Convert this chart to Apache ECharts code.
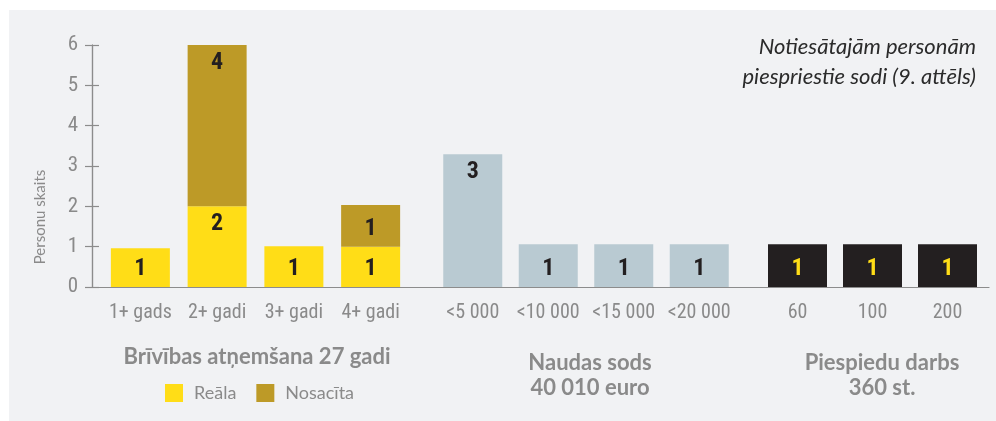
<!DOCTYPE html>
<html>
<head>
<meta charset="utf-8">
<script src="https://cdn.jsdelivr.net/npm/echarts@6/dist/echarts.min.js"></script>
<style>
  html, body { margin: 0; padding: 0; background: #fff; }
  #chart {
    width: 996px; height: 421px;
    background: linear-gradient(#f1f2f4, #f1f2f4) no-repeat 9px 10px / 987px 411px, #fff;
  }
</style>
</head>
<body>
<div id="chart"></div>
<script>
  // Brīvības atņemšana
  var prisonCats = ["1+ gads", "2+ gadi", "3+ gadi", "4+ gadi"];
  var realHeights = [0.96, 2, 1.01, 1];
  var realCounts = [1, 2, 1, 1];
  var condHeights = [0, 4, 0, 1.03];
  var condCounts = [0, 4, 0, 1];
  // Naudas sods
  var fineCats = ["<5 000", "<10 000", "<15 000", "<20 000"];
  var fineHeights = [3.29, 1.06, 1.06, 1.06];
  var fineCounts = [3, 1, 1, 1];
  // Piespiedu darbs
  var workCats = ["60", "100", "200"];
  var workHeights = [1.06, 1.06, 1.06];
  var workCounts = [1, 1, 1];

  var narrow = "'Roboto Condensed', 'Liberation Sans Narrow', Roboto, sans-serif";
  var geo = "Lato, 'Noto Sans', sans-serif";
  var gray = "#8a8a8a";
  var axisGray = "#8c8c8c";

  function items(heights, counts, textColor) {
    return heights.map(function (h, i) {
      if (!h) return "-";
      return {
        value: h,
        label: {
          formatter: String(counts[i]),
          position: counts[i] > 1 ? "insideTop" : "insideBottom",
          distance: 6,
          color: textColor,
        },
      };
    });
  }

  var barLabel = {
    show: true,
    fontFamily: narrow,
    fontWeight: "bold",
    fontSize: 24,
  };

  function catAxis(idx, data) {
    return {
      type: "category",
      gridIndex: idx,
      data: data,
      axisLine: { show: false },
      axisTick: { show: false },
      axisLabel: { interval: 0, color: gray, fontFamily: narrow, fontSize: 20, margin: 16 },
    };
  }
  function hiddenY(idx) {
    return { type: "value", gridIndex: idx, min: 0, max: 6, show: false };
  }
  function groupText(x, y, text) {
    return {
      type: "text",
      style: {
        x: x, y: y, text: text,
        fill: gray, font: "bold 22px " + geo,
        textAlign: "center", textVerticalAlign: "middle",
      },
    };
  }

  var myChart = echarts.init(document.getElementById("chart"));
  myChart.setOption({
    animation: false,
    grid: [
      { left: 92, right: 7, top: 45, bottom: 134 },
      { left: 102, width: 307, top: 45, bottom: 134 },
      { left: 435, width: 302, top: 45, bottom: 134 },
      { left: 760, width: 225, top: 45, bottom: 134 },
    ],
    xAxis: [
      {
        type: "value",
        gridIndex: 0,
        min: 0,
        max: 1,
        axisLine: { show: true, lineStyle: { color: axisGray, width: 1.2 } },
        axisTick: { show: false },
        axisLabel: { show: false },
        splitLine: { show: false },
      },
      catAxis(1, prisonCats),
      catAxis(2, fineCats),
      catAxis(3, workCats),
    ],
    yAxis: [
      {
        type: "value",
        gridIndex: 0,
        min: 0,
        max: 6,
        interval: 1,
        axisLine: { show: true, lineStyle: { color: axisGray, width: 1.2 } },
        axisTick: { show: true, length: 7, lineStyle: { color: axisGray, width: 1.2 } },
        axisLabel: { color: gray, fontFamily: narrow, fontSize: 21, margin: 14 },
        splitLine: { show: false },
      },
      {
        type: "value",
        gridIndex: 0,
        position: "left",
        offset: 0,
        min: 0,
        max: 6,
        interval: 1,
        axisLine: { show: true, lineStyle: { color: axisGray, width: 1.2 } },
        axisTick: { show: true, inside: true, length: 7, lineStyle: { color: axisGray, width: 1.2 } },
        axisLabel: { show: false },
        splitLine: { show: false },
      },
      hiddenY(1),
      hiddenY(2),
      hiddenY(3),
    ],
    legend: {
      data: ["Reāla", "Nosacīta"],
      left: 160,
      top: 379,
      icon: "rect",
      itemWidth: 18,
      itemHeight: 18,
      itemGap: 20,
      textStyle: { color: gray, fontFamily: geo, fontSize: 18, padding: [0, 0, 0, 6] },
    },
    graphic: [
      {
        type: "text",
        x: 40,
        y: 217,
        rotation: Math.PI / 2,
        style: {
          text: "Personu skaits",
          fill: gray,
          font: "15px " + geo,
          textAlign: "center",
          textVerticalAlign: "middle",
        },
      },
      {
        type: "text",
        style: {
          x: 976, y: 47, text: "Notiesātajām personām",
          fill: "#2b2b2b", font: "italic 22px " + geo,
          textAlign: "right", textVerticalAlign: "middle",
        },
      },
      {
        type: "text",
        style: {
          x: 976, y: 77, text: "piespriestie sodi (9. attēls)",
          fill: "#2b2b2b", font: "italic 22px " + geo,
          textAlign: "right", textVerticalAlign: "middle",
        },
      },
      groupText(257, 357, "Brīvības atņemšana 27 gadi"),
      groupText(590, 363, "Naudas sods"),
      groupText(590, 388, "40 010 euro"),
      groupText(882, 363, "Piespiedu darbs"),
      groupText(882, 388, "360 st."),
    ],
    series: [
      {
        name: "Reāla",
        type: "bar",
        stack: "prison",
        xAxisIndex: 1,
        yAxisIndex: 2,
        barWidth: 59,
        itemStyle: { color: "#ffdd17" },
        label: barLabel,
        data: items(realHeights, realCounts, "#231f20"),
      },
      {
        name: "Nosacīta",
        type: "bar",
        stack: "prison",
        xAxisIndex: 1,
        yAxisIndex: 2,
        barWidth: 59,
        itemStyle: { color: "#bd9a27" },
        label: barLabel,
        data: items(condHeights, condCounts, "#231f20"),
      },
      {
        name: "Naudas sods",
        type: "bar",
        xAxisIndex: 2,
        yAxisIndex: 3,
        barWidth: 59,
        itemStyle: { color: "#b9cad2" },
        label: barLabel,
        data: items(fineHeights, fineCounts, "#231f20"),
      },
      {
        name: "Piespiedu darbs",
        type: "bar",
        xAxisIndex: 3,
        yAxisIndex: 4,
        barWidth: 59,
        itemStyle: { color: "#231f20" },
        label: barLabel,
        data: items(workHeights, workCounts, "#ffdd17"),
      },
    ],
  });
  window.addEventListener("resize", function () {
    myChart.resize();
  });
</script>
</body>
</html>
